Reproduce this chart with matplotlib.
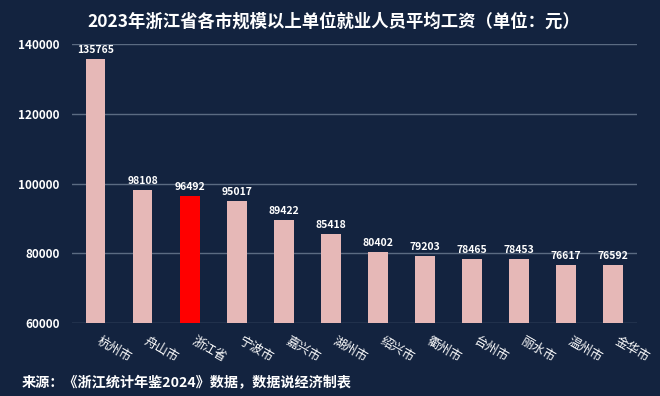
import matplotlib.pyplot as plt
import matplotlib.transforms as mtransforms

plt.rcParams['font.family'] = ['Noto Sans CJK SC', 'DejaVu Sans']

cities = ['杭州市', '舟山市', '浙江省', '宁波市', '嘉兴市', '湖州市', '绍兴市',
          '衢州市', '台州市', '丽水市', '温州市', '金华市']
wages = [135765, 98108, 96492, 95017, 89422, 85418, 80402,
         79203, 78465, 78453, 76617, 76592]
yticks = [60000, 80000, 100000, 120000, 140000]

bg = '#13233f'
colors = ['#ff0000' if c == '浙江省' else '#e6b8b7' for c in cities]

fig = plt.figure(figsize=(6.6, 3.96), dpi=100, facecolor=bg)
ax = fig.add_axes([0.109, 0.184, 0.856, 0.705], facecolor=bg)

x = range(len(cities))
ax.bar(x, [w - 60000 for w in wages], bottom=60000, width=0.42, color=colors, zorder=3)

for i, w in zip(x, wages):
    ax.text(i, w + 1200, str(w), ha='center', va='bottom', color='white',
            fontsize=7.5, fontweight='bold')

ax.set_ylim(60000, 140000)
ax.set_xlim(-0.5, len(cities) - 0.5)
ax.set_yticks(yticks)
ax.set_yticklabels([str(t) for t in yticks], color='white', fontsize=8.5, fontweight='bold')
ax.yaxis.grid(True, color='#5b6b82', linewidth=1, zorder=0)
ax.tick_params(axis='y', length=0, pad=9)
ax.tick_params(axis='x', length=0, pad=8)
ax.set_xticks(list(x))
ax.set_xticklabels(cities, rotation=-30, ha='left', rotation_mode='anchor',
                   color='white', fontsize=9)
shift = mtransforms.ScaledTranslation(6 / 100, 0, fig.dpi_scale_trans)
for lab in ax.get_xticklabels():
    lab.set_transform(lab.get_transform() + shift)
for s in ax.spines.values():
    s.set_visible(False)

fig.text(0.505, 0.945, '2023年浙江省各市规模以上单位就业人员平均工资（单位：元）',
         ha='center', va='center', color='white', fontsize=12.5, fontweight='bold')
fig.text(0.033, 0.032, '来源：《浙江统计年鉴2024》数据，数据说经济制表',
         ha='left', va='center', color='white', fontsize=10.2, fontweight='bold')

fig.savefig('out.png', dpi=100, facecolor=bg)
